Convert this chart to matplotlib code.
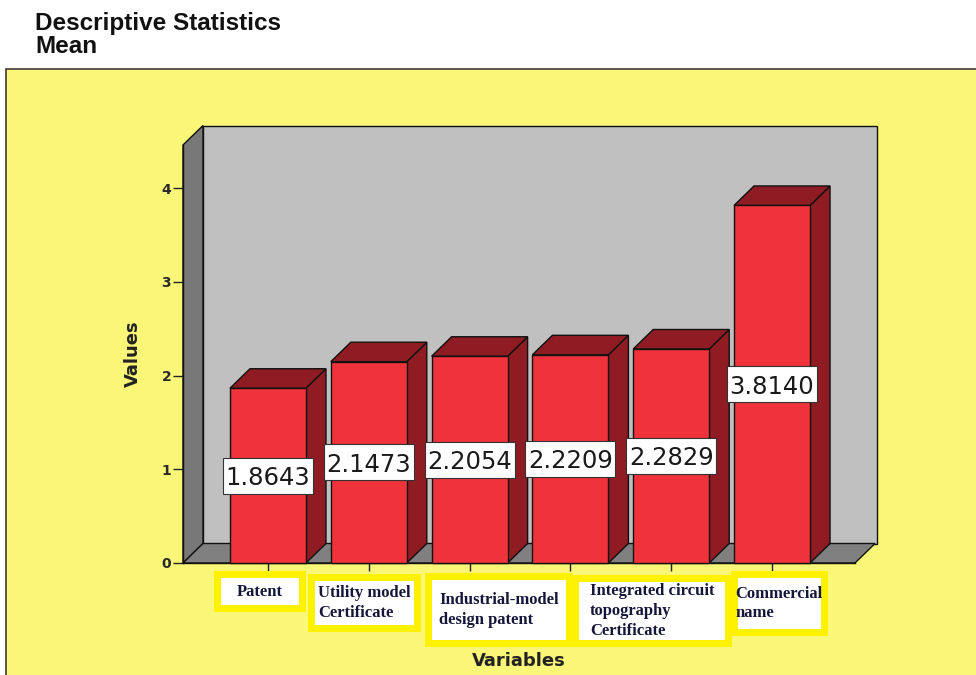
import matplotlib
matplotlib.use("Agg")
import matplotlib.pyplot as plt
from matplotlib.patches import Rectangle, Polygon

# Mean values of the six variables
values = [1.8643, 2.1473, 2.2054, 2.2209, 2.2829, 3.8140]
y_ticks = [0, 1, 2, 3, 4]

# Category captions shown in framed boxes under the axis
tick_labels = [
    "Patent",
    "Utility model\nCertificate",
    "Industrial-model\ndesign patent",
    "Integrated circuit\ntopography\nCertificate",
    "Commercial\nname",
]
# caption box layout: centre in category units, white box (w, h, top) in px
label_pos = [-0.08, 0.96, 2.29, 3.81, 5.07]
label_box = [(78, 27, 578), (99, 44, 581), (134, 60, 580), (146, 58, 582), (83, 51, 578)]

W, H = 976, 675
fig = plt.figure(figsize=(W / 100, H / 100), dpi=100)
fig.patch.set_facecolor("white")

# yellow chart panel
fig.add_artist(Rectangle((6 / W, -0.01), 1.02, (H - 69) / H + 0.01,
                         transform=fig.transFigure, facecolor="#FAF677",
                         edgecolor="#3a3a3a", lw=1.2, zorder=0))

fig.text(35 / W, 1 - 12 / H, "Descriptive Statistics\nMean", ha="left", va="top",
         fontsize=17.5, fontweight="bold", family="Liberation Sans",
         linespacing=1.0, color="#111111")

XMIN, XMAX = -0.843, 5.823
YMAX = 4.459
ax = fig.add_axes([183 / W, (H - 563) / H, (855 - 183) / W, (563 - 145) / H])
ax.set_xlim(XMIN, XMAX)
ax.set_ylim(0, YMAX)
ax.set_facecolor("none")

px_x = (855 - 183) / (XMAX - XMIN)
px_y = (563 - 145) / YMAX
dx = 20 / px_x
dy = 19.5 / px_y

edge = dict(edgecolor="#111111", lw=1.0, clip_on=False)

# back wall, side wall and floor
ax.add_patch(Rectangle((XMIN + dx, dy), XMAX - XMIN + 2 / px_x, YMAX, facecolor="#C0C0C0", zorder=0.5, **edge))
ax.add_patch(Polygon([(XMIN, 0), (XMIN + dx, dy), (XMIN + dx, YMAX + dy), (XMIN, YMAX)],
                     closed=True, facecolor="#787878", zorder=0.6, **edge))
ax.add_patch(Polygon([(XMIN, 0), (XMAX, 0), (XMAX + dx, dy), (XMIN + dx, dy)],
                     closed=True, facecolor="#808080", zorder=0.6, **edge))

bw = 76 / px_x
front = "#F0323B"
dark = "#8E1C22"
box_w, box_h = 90 / px_x, 36 / px_y
for i, v in enumerate(values):
    l, r = i - bw / 2, i + bw / 2
    ax.add_patch(Polygon([(r, 0), (r + dx, dy), (r + dx, v + dy), (r, v)],
                         closed=True, facecolor=dark, zorder=2, **edge))
    ax.add_patch(Polygon([(l, v), (r, v), (r + dx, v + dy), (l + dx, v + dy)],
                         closed=True, facecolor=dark, zorder=2, **edge))
    ax.add_patch(Rectangle((l, 0), bw, v, facecolor=front, zorder=3, **edge))
    # value label in a white box at mid-height of the bar
    ax.add_patch(Rectangle((i - box_w / 2, v / 2 - box_h / 2), box_w, box_h,
                           facecolor="white", edgecolor="#333333", lw=0.8, zorder=4))
    ax.text(i, v / 2, f"{v:.4f}", ha="center", va="center_baseline", fontsize=17.5,
            family="DejaVu Sans", color="#1a1a1a", zorder=5)

for s in ["top", "right"]:
    ax.spines[s].set_visible(False)
for s in ["left", "bottom"]:
    ax.spines[s].set_color("#111111")
    ax.spines[s].set_linewidth(1.0)

ax.set_yticks(y_ticks)
ax.set_xticks(range(len(values)))
ax.tick_params(axis="both", direction="out", length=7.5, width=1.0, color="#222222")
ax.tick_params(axis="y", labelsize=10, labelcolor="#2a2a2a", pad=1)
ax.tick_params(axis="x", labelbottom=False, length=6)
for t in ax.get_yticklabels():
    t.set_fontweight("bold")

ax.set_ylabel("Values", fontsize=13, fontweight="bold", family="DejaVu Sans",
              color="#222222", labelpad=14)

fig.text(519 / W, 1 - 661 / H, "Variables", ha="center", va="center", fontsize=13,
         fontweight="bold", family="DejaVu Sans", color="#222222")

# framed category captions
border = 7
for text, pos, (bwid, bht, top) in zip(tick_labels, label_pos, label_box):
    cx = 268 + pos * px_x
    x0, y0 = cx - bwid / 2, top + bht
    fig.add_artist(Rectangle(((x0 - border) / W, 1 - (y0 + border) / H),
                             (bwid + 2 * border) / W, (bht + 2 * border) / H,
                             transform=fig.transFigure, facecolor="#FFF200",
                             edgecolor="none", zorder=3))
    fig.add_artist(Rectangle((x0 / W, 1 - y0 / H), bwid / W, bht / H,
                             transform=fig.transFigure, facecolor="white",
                             edgecolor="none", zorder=4))
    fig.text(cx / W, 1 - (top + bht / 2) / H, text, ha="center", va="center",
             multialignment="left", fontsize=12, fontweight="bold",
             family="Liberation Serif", color="#16163A", linespacing=1.3, zorder=5)

fig.savefig("out.png", dpi=100)
